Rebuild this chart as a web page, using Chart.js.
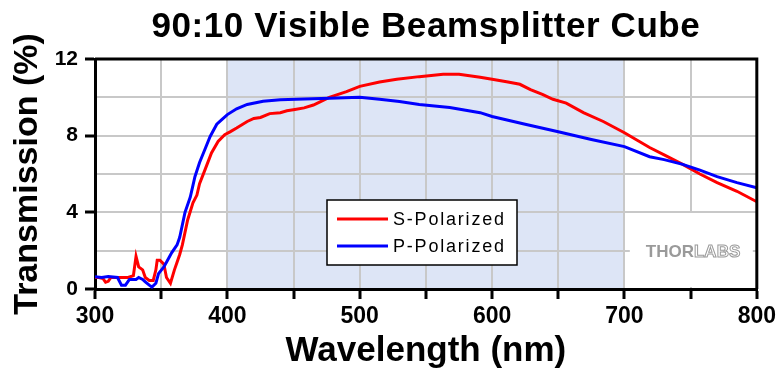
<!DOCTYPE html>
<html>
<head>
    <title>90:10 Visible Beamsplitter Cube</title>
    <script src="https://cdn.jsdelivr.net/npm/chart.js"></script>
    <style>
        body { margin: 0; background: #fff; }
    </style>
</head>
<body>
    <canvas id="chart" width="780" height="370"></canvas>

    <script>
        const chartTitle = '90:10 Visible Beamsplitter Cube';
        const xTitle = 'Wavelength (nm)';
        const yTitle = 'Transmission (%)';
        const seriesLabels = ['S-Polarized', 'P-Polarized'];
        const seriesColors = ['#ff0000', '#0000ff'];
        const shadeRange = [400, 700];

        const sWavelength = [300, 303, 306, 308, 310, 312, 316, 320, 325, 329, 331, 333, 336, 338, 341, 344,
            346, 347, 349, 352, 354, 357, 360, 362, 364, 366, 370, 374, 377, 379, 383, 388, 393, 398, 402,
            407, 415, 420, 425, 432, 440, 445, 451, 458, 465, 477, 490, 500, 515, 528, 545, 563, 575, 591, 600, 612, 621, 629,
            638, 646, 656, 669, 684, 700, 719, 730, 744, 757, 770, 785, 800];
        const sTransmission = [0.6, 0.6, 0.55, 0.35, 0.4, 0.6, 0.6, 0.6, 0.6, 0.7, 1.7, 1.15, 1.0, 0.6, 0.45, 0.45,
            1.0, 1.5, 1.5, 1.3, 0.6, 0.3, 1.0, 1.4, 1.8, 2.3, 3.6, 4.5, 4.9, 5.5, 6.2, 7.1, 7.7, 8.05, 8.2,
            8.4, 8.74, 8.9, 8.95, 9.15, 9.2, 9.3, 9.37, 9.45, 9.6, 10.0, 10.3, 10.57, 10.8, 10.94, 11.08, 11.2, 11.2, 11.05, 10.94, 10.8, 10.68, 10.4,
            10.15, 9.9, 9.7, 9.2, 8.74, 8.15, 7.38, 7.0, 6.5, 6.0, 5.55, 5.1, 4.55];

        const pWavelength = [300, 305, 310, 317, 320, 323, 326, 331, 333, 336, 338, 341, 343, 346, 348, 352,
            354, 358, 362, 364, 368, 372, 375.5, 379, 383, 387, 392, 396, 400, 407, 415, 427, 440, 452, 477,
            500, 515, 530, 545, 568, 591, 600, 625, 650, 675, 700, 719, 730, 744, 757, 770, 785, 800];
        const pTransmission = [0.64, 0.6, 0.65, 0.6, 0.2, 0.2, 0.5, 0.5, 0.6, 0.5, 0.37, 0.2, 0.1, 0.3, 0.8, 1.15,
            1.4, 1.9, 2.3, 2.7, 4.0, 4.8, 5.86, 6.6, 7.28, 7.96, 8.6, 8.85, 9.1, 9.4, 9.63, 9.8, 9.87, 9.9, 9.95,
            10.0, 9.9, 9.78, 9.63, 9.47, 9.2, 9.0, 8.6, 8.2, 7.8, 7.43, 6.9, 6.75, 6.5, 6.2, 5.86, 5.55, 5.28];

        const FONT = '"Liberation Sans", Arial, sans-serif';
        Chart.defaults.font.family = FONT;
        Chart.defaults.color = '#000';

        function toPoints(xs, ys) {
            return xs.map((x, i) => ({ x: x, y: ys[i] }));
        }

        // light blue band for the visible range, under the grid
        const shadePlugin = {
            id: 'shade',
            beforeDraw(chart) {
                const { ctx, chartArea, scales } = chart;
                const x0 = scales.x.getPixelForValue(shadeRange[0]);
                const x1 = scales.x.getPixelForValue(shadeRange[1]);
                ctx.save();
                ctx.fillStyle = '#dde5f6';
                ctx.fillRect(x0, chartArea.top, x1 - x0, chartArea.bottom - chartArea.top);
                ctx.restore();
            }
        };

        // title (centred over the plot), frame, legend box and logo
        const extrasPlugin = {
            id: 'extras',
            afterDatasetsDraw(chart) {
                const { ctx, chartArea } = chart;
                ctx.save();

                ctx.font = 'bold 35px ' + FONT;
                ctx.letterSpacing = '0.6px';
                ctx.textAlign = 'center';
                ctx.textBaseline = 'alphabetic';
                ctx.fillStyle = '#000';
                ctx.fillText(chartTitle, (chartArea.left + chartArea.right) / 2, 37);
                ctx.letterSpacing = '0px';
                ctx.textAlign = 'left';

                // logo patch
                const lx = chartArea.right - 127, ly = chartArea.bottom - 76;
                ctx.fillStyle = '#fff';
                ctx.fillRect(lx, ly, 123, 74);
                ctx.font = 'bold 17px ' + FONT;
                ctx.fillStyle = '#9a9a9a';
                ctx.fillText('THOR', lx + 16, ly + 44);
                const w = ctx.measureText('THOR').width;
                ctx.strokeStyle = '#9a9a9a';
                ctx.lineWidth = 1;
                ctx.strokeText('LABS', lx + 16 + w, ly + 44);

                // legend
                const bx = chartArea.left + 232, by = chartArea.top + 141;
                ctx.fillStyle = '#fff';
                ctx.fillRect(bx, by, 190, 65);
                ctx.strokeStyle = '#000';
                ctx.lineWidth = 1.5;
                ctx.strokeRect(bx, by, 190, 65);
                ctx.font = '18px ' + FONT;
                ctx.letterSpacing = '1.8px';
                ctx.textBaseline = 'middle';
                chart.data.datasets.forEach((ds, i) => {
                    const yy = by + 19 + i * 27;
                    ctx.strokeStyle = ds.borderColor;
                    ctx.lineWidth = 3;
                    ctx.beginPath();
                    ctx.moveTo(bx + 10, yy);
                    ctx.lineTo(bx + 61, yy);
                    ctx.stroke();
                    ctx.fillStyle = '#000';
                    ctx.fillText(ds.label, bx + 66, yy + 1);
                });
                ctx.letterSpacing = '0px';

                // top and right frame
                ctx.strokeStyle = '#000';
                ctx.lineWidth = 3;
                ctx.beginPath();
                ctx.moveTo(chartArea.left, chartArea.top);
                ctx.lineTo(chartArea.right, chartArea.top);
                ctx.lineTo(chartArea.right, chartArea.bottom);
                ctx.stroke();
                ctx.restore();
            }
        };

        new Chart(document.getElementById('chart'), {
            type: 'line',
            data: {
                datasets: [{
                    label: seriesLabels[0],
                    data: toPoints(sWavelength, sTransmission),
                    borderColor: seriesColors[0],
                    borderWidth: 3,
                    pointRadius: 0,
                    order: 1
                }, {
                    label: seriesLabels[1],
                    data: toPoints(pWavelength, pTransmission),
                    borderColor: seriesColors[1],
                    borderWidth: 3,
                    pointRadius: 0,
                    order: 0
                }]
            },
            options: {
                responsive: false,
                animation: false,
                layout: { padding: { left: 0, right: 23, top: 59, bottom: 0 } },
                plugins: {
                    legend: { display: false },
                    tooltip: { enabled: false },
                    title: { display: false }
                },
                scales: {
                    x: {
                        type: 'linear',
                        min: 300,
                        max: 800,
                        afterFit: s => { s.height = 81; },
                        ticks: {
                            stepSize: 50,
                            autoSkip: false,
                            maxRotation: 0,
                            padding: 4,
                            font: { size: 23, weight: 'bold' },
                            callback: v => (v % 100 === 0 ? v : '')
                        },
                        grid: {
                            color: '#c8c8c8',
                            lineWidth: 2,
                            tickLength: 10,
                            tickWidth: 3,
                            tickColor: '#000'
                        },
                        border: { color: '#000', width: 3 },
                        title: {
                            display: true,
                            text: xTitle,
                            font: { size: 35, weight: 'bold' },
                            padding: { top: 0, bottom: -2 }
                        }
                    },
                    y: {
                        min: 0,
                        max: 12,
                        afterFit: s => { s.width = 95; },
                        ticks: {
                            stepSize: 2,
                            autoSkip: false,
                            padding: 7,
                            font: { size: 21, weight: 'bold' },
                            callback: v => (v % 4 === 0 ? v : '')
                        },
                        grid: {
                            color: '#c8c8c8',
                            lineWidth: 2,
                            tickLength: 10,
                            tickWidth: 3,
                            tickColor: c => (c.tick && c.tick.value % 4 === 0 ? '#000' : 'rgba(0,0,0,0)')
                        },
                        border: { color: '#000', width: 3 },
                        title: {
                            display: true,
                            text: yTitle,
                            font: { size: 34, weight: 'bold' },
                            padding: { top: 7, bottom: 0 }
                        }
                    }
                }
            },
            plugins: [shadePlugin, extrasPlugin]
        });
    </script>
</body>
</html>
